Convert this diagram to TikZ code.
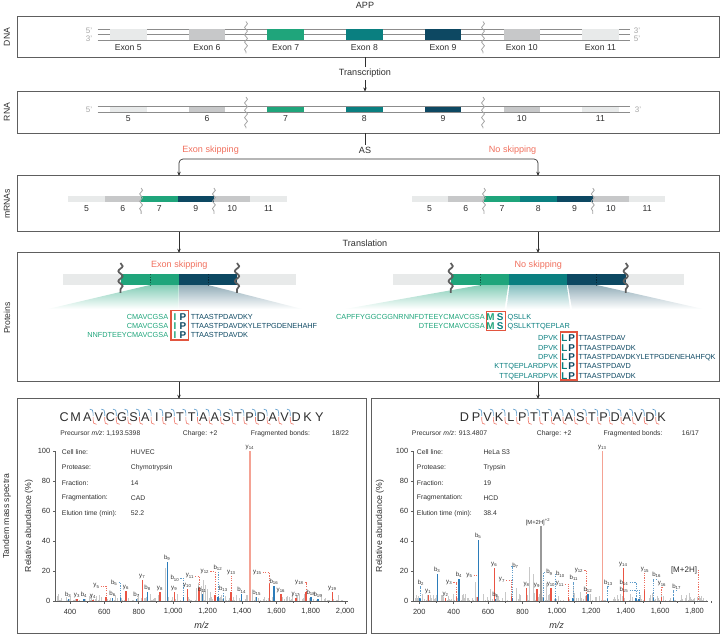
\documentclass[tikz,border=0pt]{standalone}
\usepackage{fontspec}
\setmainfont{Liberation Sans}
\usetikzlibrary{arrows.meta,decorations.pathmorphing}
\definecolor{exL}{HTML}{E8EAEA}
\definecolor{exG}{HTML}{C7C8C9}
\definecolor{exGreen}{HTML}{1FA57B}
\definecolor{exTeal}{HTML}{0A7F80}
\definecolor{exNavy}{HTML}{0D4862}
\definecolor{salm}{HTML}{F0705E}
\definecolor{boxred}{HTML}{E2553F}
\definecolor{txt}{HTML}{2F2F2F}
\definecolor{frame}{HTML}{5E5E5E}
\definecolor{bion}{HTML}{2B7CBA}
\definecolor{yion}{HTML}{EA5443}
\definecolor{ytall}{HTML}{F4A294}
\definecolor{noisec}{HTML}{C8C8C8}
\definecolor{strand}{HTML}{8C8C8C}
\definecolor{brkc}{HTML}{A5A5A5}
\newcommand\fs[1]{\fontsize{#1}{#1}\selectfont}
\tikzset{
  panel/.style={draw=frame, line width=0.75pt},
  rowlab/.style={rotate=90, font=\fs{6.5}, text=txt, inner sep=0pt},
  lab/.style={font=\fs{6.8}, text=txt, inner sep=1.5pt},
  redlab/.style={font=\fs{6.8}, text=salm, inner sep=1.5pt},
  numlab/.style={font=\fs{6.5}, text=txt, inner sep=0pt},
  primelab/.style={font=\fs{6}, text=brkc, inner sep=0pt},
  flowline/.style={draw=txt, line width=0.5pt},
  flowarrow/.style={draw=txt, line width=0.5pt, -{Stealth[length=3.2pt,width=2.6pt]}},
  strandln/.style={draw=strand, line width=0.6pt},
  brk/.style={draw=brkc, line width=0.6pt, decorate, decoration={snake, amplitude=1.1pt, segment length=5.5pt}},
  brkbig/.style={draw=frame, line width=1.3pt, decorate, decoration={snake, amplitude=1.6pt, segment length=7.5pt}},
  divider/.style={draw=black, draw opacity=0.45, line width=0.5pt, dash pattern=on 1pt off 1pt},
  seqtxt/.style={font=\fs{5.5}, inner sep=0pt, text height=3.95pt, text depth=0pt},
  aabold/.style={font=\bfseries\fs{7.4}, inner sep=0pt, text height=5.3pt, text depth=0pt},
  redbox/.style={draw=boxred, line width=1pt},
  seqbig/.style={font=\fs{9.5}, text=txt, inner sep=0pt, text height=6.8pt, text depth=0pt},
  infotxt/.style={font=\fs{5.1}, text=txt, inner sep=0pt, anchor=west},
  ticklab/.style={font=\fs{5.6}, text=txt, inner sep=0pt},
  axisln/.style={draw=frame, line width=0.5pt},
  ionlab/.style={font=\fs{4.6}, text=txt, inner sep=0.6pt},
  pkb/.style={draw=bion, line width=1.1pt},
  pky/.style={draw=yion, line width=1.1pt},
  pkt/.style={draw=ytall, line width=1.1pt},
  pkg/.style={draw=gray!80, line width=1.1pt},
  dotb/.style={draw=bion!75, line width=0.45pt, dash pattern=on 0.9pt off 0.9pt},
  doty/.style={draw=yion!85, line width=0.45pt, dash pattern=on 0.9pt off 0.9pt},
  noiseln/.style={draw=noisec, line width=0.35pt},
  bmark/.style={draw=bion!75, line width=0.5pt},
  ymark/.style={draw=yion!75, line width=0.5pt},
}
% peak with label right above
\newcommand\PkA[5]{%
  \draw[pk#1] (#2,601) -- (#2,601-1.5*#3);
  \node[ionlab, anchor=south] (#5) at (#2,601-1.5*#3) {#4};}
% peak with label and dotted connector
\newcommand\PkC[8]{%
  \draw[pk#1] (#2,601) -- (#2,601-1.5*#3);
  \node[ionlab] (#7) at (#5,#6) {#4};
  \draw[dot#1] (#7.#8) -| (#2,601-1.5*#3);}
% fragment marker between residues
\newcommand\Bond[2]{%
  \draw[bmark] (#1-3.4,#2-7.6) .. controls (#1-0.6,#2-7.6) and (#1,#2-6.2) .. (#1,#2-3.5) -- (#1,#2-0.5);
  \draw[ymark] (#1,#2+0.5) -- (#1,#2+3.5) .. controls (#1,#2+6.2) and (#1+0.6,#2+7.6) .. (#1+3.4,#2+7.6);}
\begin{document}
\begin{tikzpicture}[x=0.75pt,y=-0.75pt]
\useasboundingbox (0,0) rectangle (721,634);

%================ DNA =================
\node[lab] (app) at (365,5.5) {APP};
\draw[panel] (17,16.5) rectangle (719.5,57.5);
\node[rowlab] (dnalab) at (7,37) {DNA};
\foreach \yy in {29.5,34.75,40} \draw[strandln] (97.5,\yy) -- (630,\yy);
\foreach \k/\c/\t in {0/exL/5,1/exG/6,2/exGreen/7,3/exTeal/8,4/exNavy/9,5/exG/10,6/exL/11}{
  \pgfmathsetmacro\ex{110+78.7*\k}
  \fill[\c] (\ex,29.5) rectangle (\ex+36.5,40);
  \node[numlab] (dx\t) at (\ex+18.25,47.7) {Exon \t};
}
\node[primelab] (d5a) at (89,30.5) {5'};
\node[primelab] (d3a) at (89,38.8) {3'};
\node[primelab] (d3b) at (637,30.5) {3'};
\node[primelab] (d5b) at (637,38.8) {5'};
\draw[brk] (246,21.5) -- (246,53.5);
\draw[brk] (483,21.5) -- (483,53.5);

%================ Transcription =================
\coordinate (dnabot) at (365,57.5);
\node[lab] (trans) at (365,73.3) {Transcription};
\coordinate (rnatop) at (365,91.7);
\draw[flowline] (dnabot) -- (trans.north);
\draw[flowarrow] (trans.south) -- (rnatop);

%================ RNA =================
\draw[panel] (17,91.7) rectangle (719.5,133.3);
\node[rowlab] (rnalab) at (7,112) {RNA};
\foreach \yy in {106.7,112.3} \draw[strandln] (97.5,\yy) -- (630,\yy);
\foreach \k/\c/\t in {0/exL/5,1/exG/6,2/exGreen/7,3/exTeal/8,4/exNavy/9,5/exG/10,6/exL/11}{
  \pgfmathsetmacro\ex{110+78.7*\k}
  \fill[\c] (\ex,106.7) rectangle (\ex+36.5,112.3);
  \node[numlab] (rx\t) at (\ex+18.25,118.7) {\t};
}
\node[primelab] (r5) at (89,109.5) {5'};
\node[primelab] (r3) at (638,109.5) {3'};
\draw[brk] (246,97) -- (246,128.5);
\draw[brk] (483,97) -- (483,128.5);

%================ AS =================
\coordinate (rnabot) at (365,133.3);
\node[lab] (as) at (365,150) {AS};
\draw[flowline] (rnabot) -- (as.north);
\coordinate (brc) at (365,159);
\coordinate (mL) at (179,176);
\coordinate (mR) at (538,176);
\draw[flowarrow, rounded corners=3pt] (brc) -| (mL);
\draw[flowarrow, rounded corners=3pt] (brc) -| (mR);
\node[redlab] (esk1) at (210.6,150) {Exon skipping};
\node[redlab] (nsk1) at (512.6,150) {No skipping};

%================ mRNAs =================
\draw[panel] (17,176) rectangle (719.5,232);
\node[rowlab] (mlab) at (7,204) {mRNAs};
\foreach \k/\c/\t in {0/exL/5,1/exG/6,2/exGreen/7,3/exNavy/9,4/exG/10,5/exL/11}{
  \pgfmathsetmacro\ex{68.3+36.4*\k}
  \fill[\c] (\ex,196) rectangle (\ex+36.4,202);
  \node[numlab] (ml\t) at (\ex+18.2,208.7) {\t};
}
\foreach \k/\c/\t in {0/exL/5,1/exG/6,2/exGreen/7,3/exTeal/8,4/exNavy/9,5/exG/10,6/exL/11}{
  \pgfmathsetmacro\ex{411.5+36.25*\k}
  \fill[\c] (\ex,196) rectangle (\ex+36.25,202);
  \node[numlab] (mr\t) at (\ex+18.1,208.7) {\t};
}
\draw[brk] (141.1,188) -- (141.1,214);
\draw[brk] (213.9,188) -- (213.9,214);
\draw[brk] (484,188) -- (484,214);
\draw[brk] (592.75,188) -- (592.75,214);

%================ Translation =================
\coordinate (tL0) at (179,232);
\coordinate (tR0) at (538,232);
\coordinate (tL1) at (179,253);
\coordinate (tR1) at (538,253);
\draw[flowarrow] (tL0) -- (tL1);
\draw[flowarrow] (tR0) -- (tR1);
\node[lab] (transl) at (365,243.3) {Translation};

%================ Proteins =================
\draw[panel] (17,253) rectangle (719.5,382);
\node[rowlab] (plab) at (7,318) {Proteins};
% left fans
\shade[top color=exGreen!55, bottom color=white] (150,285) -- (178.6,285) -- (178.6,309) -- (48,309) -- cycle;
\shade[top color=exNavy!45, bottom color=white] (179.6,285) -- (208,285) -- (302,309) -- (179.6,309) -- cycle;
% left bar
\fill[exL] (62.7,274) rectangle (296,285);
\fill[exGreen] (120.5,274) rectangle (179,285);
\fill[exNavy] (179,274) rectangle (237,285);
\draw[divider] (150,274) -- (150,285);
\draw[divider] (208,274) -- (208,285);
\draw[brkbig] (120.5,263) -- (120.5,293);
\draw[brkbig] (237,263) -- (237,293);
\node[redlab] (esk2) at (179.3,265) {Exon skipping};
% left sequences
\foreach \r/\pre/\suf [count=\n] in {317/CMAVCGSA/TTAASTPDAVDKY, 326/CMAVCGSA/TTAASTPDAVDKYLETPGDENEHAHF, 335/NNFDTEEYCMAVCGSA/TTAASTPDAVDK}{
  \node[seqtxt, text=exGreen, anchor=east] (lpre\n) at (168.5,\r) {\pre};
  \node[aabold, text=exGreen] (lI\n) at (175,\r) {I};
  \node[aabold, text=exNavy] (lP\n) at (183,\r) {P};
  \node[seqtxt, text=exNavy, anchor=west] (lsuf\n) at (190.5,\r) {\suf};
}
\draw[redbox] (171,310.5) rectangle (188.7,340);

% right fans
\shade[top color=exGreen!55, bottom color=white] (480.7,285) -- (508.3,285) -- (504.5,309) -- (345,309) -- cycle;
\shade[top color=exTeal!50, bottom color=white] (509.5,285) -- (566.8,285) -- (570,309) -- (506.5,309) -- cycle;
\shade[top color=exNavy!45, bottom color=white] (567.8,285) -- (596.7,285) -- (703,309) -- (572,309) -- cycle;
% right bar
\fill[exL] (392.7,274) rectangle (684,285);
\fill[exGreen] (450.7,274) rectangle (509,285);
\fill[exTeal] (509,274) rectangle (567.3,285);
\fill[exNavy] (567.3,274) rectangle (625.7,285);
\draw[divider] (480.7,274) -- (480.7,285);
\draw[divider] (596.7,274) -- (596.7,285);
\draw[brkbig] (450.7,263) -- (450.7,293);
\draw[brkbig] (625.7,263) -- (625.7,293);
\node[redlab] (nsk2) at (538.3,265) {No skipping};
% right sequences
\foreach \r/\pre/\suf [count=\n] in {316.7/CAPFFYGGCGGNRNNFDTEEYCMAVCGSA/QSLLK, 326/DTEEYCMAVCGSA/QSLLKTTQEPLAR}{
  \node[seqtxt, text=exGreen, anchor=east] (rpre\n) at (485,\r) {\pre};
  \node[aabold, text=exGreen] (rM\n) at (490.5,\r) {M};
  \node[aabold, text=exTeal] (rS\n) at (500.2,\r) {S};
  \node[seqtxt, text=exTeal, anchor=west] (rsuf\n) at (507.3,\r) {\suf};
}
\draw[redbox] (486.5,311.5) rectangle (505.5,330.5);
\foreach \r/\pre/\suf [count=\n] in {338.3/DPVK/TTAASTPDAV, 347.6/DPVK/TTAASTPDAVDK, 356.9/DPVK/TTAASTPDAVDKYLETPGDENEHAHFQK, 366.2/KTTQEPLARDPVK/TTAASTPDAVD, 375.5/TTQEPLARDPVK/TTAASTPDAVDK}{
  \node[seqtxt, text=exTeal, anchor=east] (qpre\n) at (558.3,\r) {\pre};
  \node[aabold, text=exTeal] (qL\n) at (564.5,\r) {L};
  \node[aabold, text=exNavy] (qP\n) at (571.6,\r) {P};
  \node[seqtxt, text=exNavy, anchor=west] (qsuf\n) at (578.3,\r) {\suf};
}
\draw[redbox] (560.6,332) rectangle (576.9,380);

%================ arrows to spectra =================
\coordinate (sL0) at (179,382);
\coordinate (sR0) at (538,382);
\coordinate (sL1) at (179,399);
\coordinate (sR1) at (538,399);
\draw[flowarrow] (sL0) -- (sL1);
\draw[flowarrow] (sR0) -- (sR1);

%================ Spectra frames =================
\draw[panel] (17,399) rectangle (366.5,633.5);
\draw[panel] (371.5,399) rectangle (719.5,633.5);
\node[rowlab] (tmlab) at (7,516) {Tandem mass spectra};

%================ LEFT spectrum =================
\foreach \ch [count=\i] in {C,M,A,V,C,G,S,A,I,P,T,T,A,A,S,T,P,D,A,V,D,K,Y}
  \node[seqbig] (ls\i) at (64.1+11.6*\i-11.6,416.7) {\ch};
\foreach \k in {3,...,20}{\pgfmathsetmacro\bx{64.1+11.6*\k-5.8}\Bond{\bx}{416.7}}
\node[infotxt] (lpc) at (60,433.3) {Precursor \textit{m/z}:};
\node[infotxt] (lpcv) at (106,433.3) {1,193.5398};
\node[infotxt] (lch) at (182.7,433.3) {Charge: +2};
\node[infotxt] (lfb) at (250.7,433.3) {Fragmented bonds:};
\node[infotxt] (lfbv) at (331.7,433.3) {18/22};
\foreach \a/\b [count=\n] in {Cell line:/HUVEC, Protease:/Chymotrypsin, Fraction:/14, Fragmentation:/CAD, Elution time (min):/52.2}{
  \node[infotxt] (lia\n) at (61.7,436.6+15.4*\n) {\a};
  \node[infotxt] (lib\n) at (130.7,436.6+15.4*\n) {\b};
}
% noise
\pgfmathsetseed{11}
\foreach \i in {1,...,260}{
  \pgfmathsetmacro\nx{57+289*rnd}\pgfmathsetmacro\nh{0.3+4.5*rnd^3}
  \draw[noiseln] (\nx,601) -- (\nx,601-1.5*\nh);}
\foreach \gx/\gh in {165/22,196/9,198/12,201/10,203/14,205/11,207/8,210/6,150/5,236/4,120/4}
  \draw[noiseln, line width=0.5pt] (\gx,601) -- (\gx,601-1.5*\gh);
% axes
\draw[axisln] (55,451) -- (55,601) -- (348,601);
\foreach \v in {0,20,...,100}{
  \draw[axisln] (55,601-1.5*\v) -- (52.5,601-1.5*\v);
  \node[ticklab, anchor=east] at (50.5,601-1.5*\v) {\v};}
\foreach \m/\t in {400/400,600/600,800/800,1000/{1,000},1200/{1,200},1400/{1,400},1600/{1,600},1800/{1,800},2000/{2,000}}{
  \pgfmathsetmacro\tx{70+(\m-400)*0.172}
  \draw[axisln] (\tx,601) -- (\tx,603.5);
  \node[ticklab] at (\tx,611.5) {\t};}
\foreach \m in {500,700,...,1900}{
  \pgfmathsetmacro\tx{70+(\m-400)*0.172}
  \draw[axisln] (\tx,601) -- (\tx,602.5);}
\node[rowlab] (lra) at (29,526) {Relative abundance (\%)};
\node[lab, font=\itshape\fs{6.8}] (lmz) at (201.7,625) {m/z};
% peaks
\PkA{b}{68.3}{1.5}{b\textsubscript{3}}{lb3}
\PkA{y}{77}{1.5}{y\textsubscript{3}}{ly3}
\PkA{b}{84}{1.5}{b\textsubscript{4}}{lb4}
\PkA{y}{93}{0.8}{y\textsubscript{4}}{ly4}
\PkC{y}{106}{2.5}{y\textsubscript{5}}{96.5}{586}{ly5}{east}
\PkA{b}{112.7}{2}{b\textsubscript{6}}{lb6}
\PkC{b}{120.7}{2}{b\textsubscript{5}}{114.3}{582.7}{lb5}{east}
\PkA{y}{126}{7}{y\textsubscript{6}}{ly6}
\PkA{b}{136.7}{1.5}{b\textsubscript{7}}{lb7}
\PkA{y}{142.3}{14}{y\textsubscript{7}}{ly7}
\PkA{b}{147.7}{6}{b\textsubscript{8}}{lb8}
\PkA{y}{160}{6}{y\textsubscript{8}}{ly8}
\PkA{b}{167.3}{26}{b\textsubscript{9}}{lb9}
\PkA{y}{174.3}{6}{y\textsubscript{9}}{ly9}
\PkC{b}{183.3}{3}{b\textsubscript{10}}{175}{578.3}{lb10}{east}
\PkA{y}{187.3}{8}{y\textsubscript{10}}{ly10}
\PkC{y}{199}{9}{y\textsubscript{11}}{190}{576}{ly11}{east}
\PkA{b}{202.5}{5}{b\textsubscript{11}}{lb11}
\PkC{y}{215}{4}{y\textsubscript{12}}{205}{571.5}{ly12}{east}
\PkC{b}{218}{2.5}{b\textsubscript{12}}{218}{568}{lb12}{south}
\PkC{b}{223.5}{2}{b\textsubscript{13}}{223.5}{589}{lb13}{south}
\PkC{y}{231}{6}{y\textsubscript{13}}{231.5}{572.5}{ly13}{south}
\PkA{b}{241.7}{4.5}{b\textsubscript{14}}{lb14}
\PkA{t}{250}{100}{y\textsubscript{14}}{ly14}
\PkA{b}{256.7}{3}{b\textsubscript{15}}{lb15}
\PkC{y}{269.3}{12}{y\textsubscript{15}}{257.5}{572.3}{ly15}{east}
\PkA{b}{274}{10}{b\textsubscript{16}}{lb16}
\PkA{y}{281}{5}{y\textsubscript{16}}{ly16}
\PkA{y}{296}{2}{y\textsubscript{17}}{ly17}
\PkC{y}{306}{6}{y\textsubscript{18}}{299.5}{582.5}{ly18}{east}
\PkA{b}{311}{3}{b\textsubscript{18}}{lb18}
\PkA{b}{318}{1.5}{b\textsubscript{19}}{lb19}
\PkA{y}{332.3}{6}{y\textsubscript{19}}{ly19}

%================ RIGHT spectrum =================
\foreach \ch [count=\i] in {D,P,V,K,L,P,T,T,A,A,S,T,P,D,A,V,D,K}
  \node[seqbig] (rs\i) at (464.4+11.6*\i-11.6,416.7) {\ch};
\foreach \k in {2,...,17}{\pgfmathsetmacro\bx{464.4+11.6*\k-5.8}\Bond{\bx}{416.7}}
\node[infotxt] (rpc) at (411.7,433.3) {Precursor \textit{m/z}:};
\node[infotxt] (rpcv) at (458.5,433.3) {913.4807};
\node[infotxt] (rch) at (536.7,433.3) {Charge: +2};
\node[infotxt] (rfb) at (603.3,433.3) {Fragmented bonds:};
\node[infotxt] (rfbv) at (681.7,433.3) {16/17};
\foreach \a/\b [count=\n] in {Cell line:/HeLa S3, Protease:/Trypsin, Fraction:/19, Fragmentation:/HCD, Elution time (min):/38.4}{
  \node[infotxt] (ria\n) at (416.7,436.6+15.4*\n) {\a};
  \node[infotxt] (rib\n) at (483.3,436.6+15.4*\n) {\b};
}
\pgfmathsetseed{23}
\foreach \i in {1,...,260}{
  \pgfmathsetmacro\nx{415+293*rnd}\pgfmathsetmacro\nh{0.3+5*rnd^3}
  \draw[noiseln] (\nx,601) -- (\nx,601-1.5*\nh);}
\foreach \gx/\gh in {475/13,505/6,516/9,529.3/23,533/18,546/12,573/10,580/6,490/8,465/5,620/5,640/4}
  \draw[noiseln, line width=0.5pt] (\gx,601) -- (\gx,601-1.5*\gh);
\draw[axisln] (413,451) -- (413,601) -- (708,601);
\foreach \v in {0,20,...,100}{
  \draw[axisln] (413,601-1.5*\v) -- (410.5,601-1.5*\v);
  \node[ticklab, anchor=east] at (408.5,601-1.5*\v) {\v};}
\foreach \m/\t in {200/200,400/400,600/600,800/800,1000/{1,000},1200/{1,200},1400/{1,400},1600/{1,600},1800/{1,800}}{
  \pgfmathsetmacro\tx{419.3+(\m-200)*0.172}
  \draw[axisln] (\tx,601) -- (\tx,603.5);
  \node[ticklab] at (\tx,611.5) {\t};}
\foreach \m in {300,500,...,1900}{
  \pgfmathsetmacro\tx{419.3+(\m-200)*0.172}
  \draw[axisln] (\tx,601) -- (\tx,602.5);}
\node[rowlab] (rra) at (380,526) {Relative abundance (\%)};
\node[lab, font=\itshape\fs{6.8}] (rmz) at (556.7,625) {m/z};
% peaks
\PkC{b}{420}{2}{b\textsubscript{2}}{421}{582.7}{rb2}{south}
\PkA{y}{428.3}{4}{y\textsubscript{1}}{ry1}
\PkA{b}{437.3}{18}{b\textsubscript{3}}{rb3}
\PkA{y}{445.7}{2}{y\textsubscript{2}}{ry2}
\PkC{y}{456.7}{3}{y\textsubscript{3}}{449.3}{582.7}{ry3}{east}
\PkA{b}{459}{15}{b\textsubscript{4}}{rb4}
\PkC{y}{478}{3}{y\textsubscript{5}}{469.5}{575.7}{ry5}{east}
\PkA{b}{478.3}{41}{b\textsubscript{5}}{rb5}
\PkA{y}{494.3}{22}{y\textsubscript{6}}{ry6}
\PkA{b}{495.5}{1.5}{b\textsubscript{6}}{rb6}
\PkC{y}{511.7}{3}{y\textsubscript{7}}{502}{580}{ry7}{east}
\PkC{b}{512.3}{2}{b\textsubscript{7}}{515.5}{566}{rb7}{west}
\PkA{y}{526.7}{9}{y\textsubscript{8}}{ry8}
\PkA{y}{537}{8}{y\textsubscript{9}}{ry9}
\draw[pkg] (541,601) -- (541,526);
\node[ionlab, font=\fs{4.4}, anchor=south] (rm2) at (538,526.5) {[M+2H]\textsuperscript{+2}};
\PkC{b}{543.5}{2}{b\textsubscript{9}}{549.5}{572.3}{rb9}{west}
\PkA{y}{551}{9}{y\textsubscript{10}}{ry10}
\PkC{b}{555.5}{2}{b\textsubscript{10}}{560.5}{574.3}{rb10}{west}
\PkC{y}{568.3}{3}{y\textsubscript{11}}{560}{584}{ry11}{east}
\PkC{b}{573}{2}{b\textsubscript{11}}{574}{578}{rb11}{south}
\PkC{y}{586.7}{4}{y\textsubscript{12}}{579}{570.7}{ry12}{east}
\PkA{b}{588}{5}{b\textsubscript{12}}{rb12}
\PkA{t}{602.3}{100}{y\textsubscript{13}}{ry13}
\PkC{b}{607.5}{2}{b\textsubscript{13}}{608.5}{582.7}{rb13}{south}
\PkA{y}{623.3}{22}{y\textsubscript{14}}{ry14}
\PkC{b}{636}{2}{b\textsubscript{14}}{624}{582.7}{rb14}{east}
\PkC{b}{639}{1.5}{b\textsubscript{15}}{624}{590}{rb15}{east}
\PkC{y}{644.3}{7}{y\textsubscript{15}}{645}{570}{ry15}{south}
\PkC{b}{653.3}{2}{b\textsubscript{16}}{656.7}{575}{rb16}{south}
\PkC{y}{661.7}{3}{y\textsubscript{16}}{662}{584}{ry16}{south}
\PkC{b}{673.3}{2}{b\textsubscript{17}}{676.7}{586.7}{rb17}{south}
\node[lab, font=\fs{6}, inner sep=0.5pt] (rmh) at (684,570) {[M+2H]};
\draw[doty] (rmh.east) -| (698.3,600);
\end{tikzpicture}
\end{document}
